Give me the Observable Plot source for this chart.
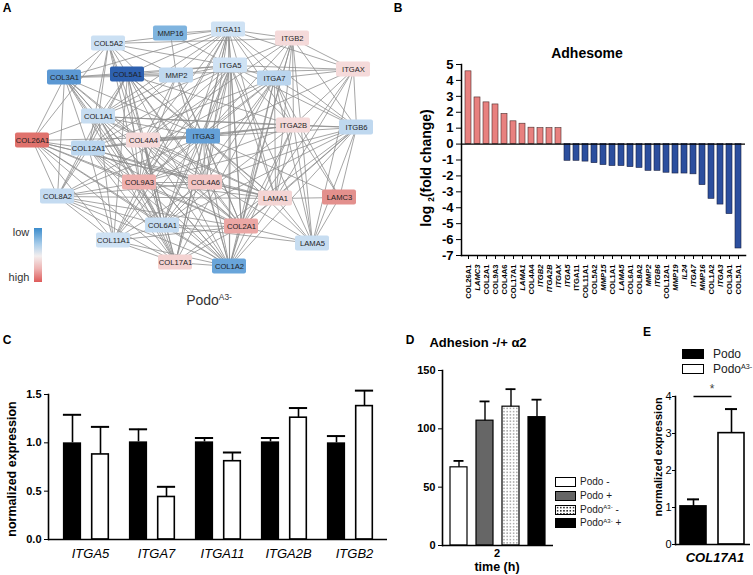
<!DOCTYPE html>
<html><head><meta charset="utf-8">
<script src="https://cdn.jsdelivr.net/npm/d3@7"></script>
<script src="https://cdn.jsdelivr.net/npm/@observablehq/plot@0.6"></script>
<style>
body{margin:0;background:#fff;font-family:"Liberation Sans",Arial,sans-serif;}
#fig{position:relative;width:753px;height:575px;overflow:hidden;background:#fff;}
.t{position:absolute;white-space:nowrap;line-height:1;color:#000;}
sup{font-size:0.6em;vertical-align:0;position:relative;top:-0.6em;}
sub{font-size:0.6em;vertical-align:0;position:relative;top:0.3em;}
</style></head>
<body><div id="fig"></div>
<script>
// ---------- Panel A: network ----------
const nodeNames = ["MMP16","ITGA11","COL5A2","ITGB2","COL3A1","COL5A1","MMP2","ITGA5","ITGA7","ITGAX","COL1A1","ITGA2B","ITGB6","COL26A1","COL4A4","ITGA3","COL12A1","COL9A3","COL4A6","COL8A2","LAMA1","LAMC3","COL6A1","COL2A1","COL11A1","LAMA5","COL17A1","COL1A2"];
const nodeX = [170,228,108,292,64,127,176,230,274,353,98,293,356,32,143,203,88,139,205,57,275,339,162,241,113,312,175,229];
const nodeY = [33,29,43,38,77,74,75,65,78,69,116,125,127,140,140,136,148,182,182,196,198,197,225,226,240,243,262,266];
const edgeList = [
"COL3A1 COL5A1","COL3A1 MMP2","COL5A1 MMP2","MMP2 ITGA5","MMP16 MMP2","MMP16 ITGA11","MMP16 ITGA5",
"COL5A2 ITGA11","COL5A2 ITGA5","COL5A2 COL3A1","COL5A2 COL5A1","COL5A2 COL1A1","COL5A2 COL12A1","COL5A2 COL4A4","COL5A2 ITGA3","COL5A2 COL26A1","COL5A2 COL9A3","COL5A2 COL6A1","COL5A2 MMP2","COL5A2 ITGB2",
"COL3A1 COL1A1","COL3A1 COL12A1","COL3A1 COL26A1","COL3A1 COL8A2","COL3A1 COL4A4","COL3A1 ITGA3","COL3A1 COL9A3","COL3A1 COL2A1","COL3A1 COL1A2","COL3A1 ITGA5","COL3A1 COL6A1","COL3A1 COL17A1",
"COL5A1 ITGA5","COL5A1 ITGAX","COL5A1 COL1A1","COL5A1 COL9A3","COL5A1 COL4A6","COL5A1 COL2A1","COL5A1 LAMA1","COL5A1 COL1A2","COL5A1 COL6A1","COL5A1 COL11A1","COL5A1 COL8A2","COL5A1 COL12A1","COL5A1 ITGA3","COL5A1 COL17A1","COL5A1 ITGA2B",
"COL1A1 ITGA2B","COL1A1 ITGB6","COL1A1 COL4A4","COL1A1 COL26A1","COL1A1 COL12A1","COL1A1 COL8A2","COL1A1 COL9A3","COL1A1 COL6A1","COL1A1 COL2A1","COL1A1 COL1A2","COL1A1 ITGA3","COL1A1 ITGA11","COL1A1 COL11A1","COL1A1 COL17A1","COL1A1 LAMA1",
"COL26A1 ITGA3","COL26A1 COL12A1","COL26A1 COL8A2","COL26A1 COL9A3","COL26A1 COL4A6","COL26A1 COL6A1","COL26A1 COL2A1","COL26A1 COL1A2","COL26A1 COL11A1","COL26A1 LAMA1","COL26A1 COL17A1",
"ITGA11 ITGB2","ITGA11 ITGAX","ITGA11 ITGA5","ITGA11 ITGA7","ITGA11 COL3A1","ITGA11 COL5A1","ITGA11 ITGA3","ITGA11 COL4A4","ITGA11 COL9A3","ITGA11 COL4A6","ITGA11 COL2A1","ITGA11 COL1A2","ITGA11 COL6A1","ITGA11 COL17A1","ITGA11 LAMA1","ITGA11 ITGB6","ITGA11 ITGA2B","ITGA11 COL11A1","ITGA11 COL12A1",
"ITGB2 ITGAX","ITGB2 ITGA7","ITGB2 ITGA5","ITGB2 ITGA2B","ITGB2 ITGB6","ITGB2 ITGA3","ITGB2 LAMA1","ITGB2 LAMA5","ITGB2 COL4A4","ITGB2 COL2A1","ITGB2 COL1A2",
"ITGA5 ITGAX","ITGA5 ITGA7","ITGA5 ITGA3","ITGA5 COL1A1","ITGA5 COL4A4","ITGA5 COL9A3","ITGA5 COL4A6","ITGA5 COL6A1","ITGA5 COL2A1","ITGA5 COL1A2","ITGA5 LAMA1","ITGA5 LAMA5","ITGA5 ITGB6","ITGA5 ITGA2B","ITGA5 COL17A1","ITGA5 COL11A1","ITGA5 COL12A1",
"ITGA7 ITGAX","ITGA7 ITGB6","ITGA7 ITGA2B","ITGA7 LAMA1","ITGA7 LAMC3","ITGA7 LAMA5","ITGA7 COL2A1","ITGA7 COL1A2","ITGA7 ITGA3","ITGA7 COL4A6","ITGA7 COL6A1","ITGA7 COL9A3","ITGA7 COL8A2","ITGA7 COL12A1","ITGA7 COL17A1",
"ITGAX ITGB6","ITGAX ITGA2B","ITGAX ITGA3","ITGAX LAMA1","ITGAX COL2A1","ITGAX LAMA5",
"ITGA2B ITGB6","ITGA2B ITGA3","ITGA2B COL4A4","ITGA2B LAMA1","ITGA2B LAMC3","ITGA2B LAMA5","ITGA2B COL2A1","ITGA2B COL1A2","ITGA2B COL6A1","ITGA2B COL9A3","ITGA2B COL12A1",
"ITGB6 LAMA1","ITGB6 LAMC3","ITGB6 LAMA5","ITGB6 COL2A1","ITGB6 COL1A2","ITGB6 COL4A6","ITGB6 COL6A1","ITGB6 COL17A1","ITGB6 ITGA3","ITGB6 COL9A3",
"ITGA3 COL4A4","ITGA3 LAMA1","ITGA3 LAMC3","ITGA3 LAMA5","ITGA3 COL9A3","ITGA3 COL4A6","ITGA3 COL6A1","ITGA3 COL2A1","ITGA3 COL1A2","ITGA3 COL17A1","ITGA3 COL11A1","ITGA3 COL8A2","ITGA3 COL12A1",
"LAMA1 LAMC3","LAMA1 LAMA5","LAMC3 LAMA5","LAMA1 COL2A1","LAMA1 COL1A2","LAMA5 COL2A1","LAMA5 COL6A1","LAMA5 COL4A4","LAMA1 COL9A3","LAMA1 COL4A4",
"COL2A1 COL1A2","COL2A1 COL6A1","COL2A1 COL9A3","COL2A1 COL4A6","COL2A1 COL11A1","COL2A1 COL8A2","COL2A1 COL12A1","COL2A1 COL4A4","COL2A1 COL17A1",
"COL17A1 COL1A2","COL17A1 COL6A1","COL17A1 COL11A1","COL17A1 COL9A3","COL17A1 COL4A4","COL17A1 COL8A2","COL17A1 COL12A1",
"COL6A1 COL1A2","COL6A1 COL11A1","COL6A1 COL9A3","COL6A1 COL4A6","COL6A1 COL8A2","COL6A1 COL12A1","COL6A1 COL4A4",
"COL11A1 COL1A2","COL11A1 COL8A2","COL11A1 COL9A3","COL11A1 COL12A1","COL11A1 COL4A6",
"COL8A2 COL9A3","COL8A2 COL4A6","COL8A2 COL1A2","COL8A2 COL12A1","COL8A2 LAMA1",
"COL9A3 COL4A6","COL9A3 COL4A4","COL9A3 COL1A2","COL9A3 COL12A1",
"COL4A6 COL4A4","COL4A6 COL1A2","COL4A6 LAMA1","COL4A6 COL12A1",
"COL12A1 COL1A2","COL12A1 LAMA1","COL12A1 COL4A4",
"MMP2 COL1A1","MMP2 COL4A4","MMP2 COL1A2","MMP2 COL2A1","MMP2 ITGA3","MMP2 COL9A3",
"COL4A4 COL1A2","COL4A4 COL6A1"
];
const colorStops = [-6.6,-4.4,-3.4,-2.6,-1.9,-1.0,0,1.0,1.45,1.9,2.5,2.95,4.6];
const colorRange = ["#2c5fae","#5b98d3","#6aa6da","#7db3df","#bad5ee","#d0e3f4","#f2f2f2","#f5dada","#f4d2d1","#f3c6c5","#eeb0ae","#e38f8b","#e0716c"];

// ---------- Panel B: Adhesome ----------
const bGenes = ["COL26A1","LAMC3","COL2A1","COL9A3","COL4A6","COL17A1","LAMA1","COL4A4","ITGB2","ITGA2B","ITGAX","ITGA5","ITGA11","COL11A1","COL5A2","MMP15","COL1A1","LAMA5","COL6A1","COL8A2","MMP2","ITGB6","COL12A1","MMP19","IL24","ITGA7","MMP16","COL1A2","ITGA3","COL3A1","COL5A1"];
const bValues = [4.57,2.93,2.62,2.49,1.89,1.43,1.28,1.03,1.0,1.0,1.0,-1.05,-1.05,-1.1,-1.2,-1.32,-1.38,-1.38,-1.45,-1.5,-1.68,-1.68,-1.8,-1.85,-1.85,-1.9,-2.58,-3.44,-3.8,-4.4,-6.56];
const bItalic = ["LAMC3","LAMA1","ITGB2","ITGA2B","ITGAX","ITGA5","MMP15","LAMA5","MMP2","ITGB6","MMP19","IL24","ITGA7","MMP16","ITGA3"];
const bTicks = [5,4,3,2,1,0,-1,-2,-3,-4,-5,-6,-7];

// ---------- Panel C ----------
const cGenes = ["ITGA5","ITGA7","ITGA11","ITGA2B","ITGB2"];
const cPodo = [1.0,1.01,1.01,1.01,1.0];
const cPodoErr = [1.29,1.14,1.05,1.05,1.07];
const cA3 = [0.88,0.44,0.81,1.26,1.38];
const cA3Err = [1.165,0.545,0.90,1.36,1.54];
const cTicks = [0,0.5,1,1.5];

// ---------- Panel D ----------
const dConds = ["Podo -","Podo +","PodoA3- -","PodoA3- +"];
const dValues = [67,107,119,110];
const dErr = [72.5,123.5,134,125];
const dFills = ["white","#666666","url(#dots)","black"];
const dTicks = [0,50,100,150];

// ---------- Panel E ----------
const eConds = ["Podo","PodoA3-"];
const eValues = [1.03,3.01];
const eErr = [1.22,3.66];
const eTicks = [0,1,2,3,4];

// ================= drawing =================
const fig = document.getElementById("fig");
const FONT = "Liberation Sans, Arial, sans-serif";
const baseStyle = {background:"transparent", fontFamily: FONT, overflow:"visible", color:"#000"};
function put(node, left, top){ node.style.position="absolute"; node.style.left=left+"px"; node.style.top=top+"px"; node.style.maxWidth="none"; fig.appendChild(node); return node; }
function txt(html, x, y, css, rot){
  const d = document.createElement("div"); d.className="t"; d.innerHTML = html;
  d.style.left = x+"px"; d.style.top = y+"px";
  d.style.transform = "translate(-50%,-50%)" + (rot ? " rotate(-90deg)" : "");
  Object.assign(d.style, css||{}); fig.appendChild(d); return d;
}

// Panel A
const nodes = nodeNames.map((n,i)=>({name:n, x:nodeX[i], y:nodeY[i]}));
const pos = new Map(nodes.map(d=>[d.name,d]));
const fc = new Map(bGenes.map((g,i)=>[g,bValues[i]]));
const edges = Array.from(new Set(edgeList)).map(s=>s.split(" "));
const BW = 17, BH = 7.5;
const svgA = Plot.plot({
  width: 375, height: 290, margin: 0,
  x: {domain:[0,375], range:[0,375], axis:null},
  y: {domain:[0,290], range:[0,290], axis:null},
  color: {type:"linear", domain: colorStops, range: colorRange},
  style: baseStyle,
  marks: [
    Plot.link(edges, {x1:d=>pos.get(d[0]).x, y1:d=>pos.get(d[0]).y, x2:d=>pos.get(d[1]).x, y2:d=>pos.get(d[1]).y, stroke:"#8e8e8e", strokeWidth:0.8}),
    Plot.rect(nodes, {x1:d=>d.x-BW, x2:d=>d.x+BW, y1:d=>d.y-BH, y2:d=>d.y+BH, fill:d=>fc.get(d.name), rx:2}),
    Plot.text(nodes, {x:"x", y:"y", text:"name", fontSize:7.6, fill:"#1e1e1e"})
  ]
});
put(svgA, 0, 0);
// legend for A
const grad = document.createElement("div");
Object.assign(grad.style, {position:"absolute", left:"34px", top:"228px", width:"8px", height:"54px",
  background:"linear-gradient(to bottom,#3b8ccc 0%,#a9cdea 30%,#f3eeee 52%,#eeb4b3 75%,#de5b5a 100%)"});
fig.appendChild(grad);
txt("low", 21, 232, {fontSize:"11px", color:"#333"});
txt("high", 19, 277, {fontSize:"11px", color:"#333"});
txt("Podo<sup>A3-</sup>", 209, 300, {fontSize:"14px", color:"#333"});

// Panel B
const bData = bGenes.map((g,i)=>({gene:g, value:bValues[i]}));
const svgB = Plot.plot({
  width: 378, height: 305, marginLeft: 86, marginRight: 8, marginTop: 64, marginBottom: 50,
  x: {domain: bGenes, paddingInner: 0.37, paddingOuter: 0.46},
  y: {domain: [-7,5]},
  style: baseStyle,
  marks: [
    Plot.barY(bData.filter(d=>d.value>0), {x:"gene", y:"value", fill:"#e8817f", stroke:"#4a2a2a", strokeWidth:0.6}),
    Plot.barY(bData.filter(d=>d.value<0), {x:"gene", y:"value", fill:"#2c4f9e", stroke:"#1a2244", strokeWidth:0.6}),
    Plot.ruleY([0], {stroke:"black", strokeWidth:1.3}),
    Plot.frame({anchor:"left", stroke:"black", strokeWidth:1.5}),
    Plot.frame({anchor:"bottom", stroke:"black", strokeWidth:1.5}),
    Plot.axisY({ticks: bTicks, tickFormat: d=>String(d), tickSize:5, tickPadding:3, fontSize:13, fontWeight:"bold", label:null}),
    Plot.axisX({ticks: bGenes.filter(g=>!bItalic.includes(g)), tickRotate:-90, tickSize:4, tickPadding:5, fontSize:7.6, fontWeight:"bold", label:null}),
    Plot.axisX({ticks: bItalic, tickRotate:-90, tickSize:4, tickPadding:5, fontSize:7.6, fontWeight:"bold", fontStyle:"italic", label:null})
  ]
});
put(svgB, 375, 0);
txt("Adhesome", 587, 53, {fontSize:"14px", fontWeight:"bold"});
txt("log <sub>2</sub>(fold change)", 426, 168, {fontSize:"14px", fontWeight:"bold"}, true);

// Panel C
const cData = cGenes.map((g,i)=>({gene:g, podo:cPodo[i], podoErr:cPodoErr[i], a3:cA3[i], a3Err:cA3Err[i]}));
const cL = 9.9, cR = 37.9;
const svgC = Plot.plot({
  width: 395, height: 195, marginLeft: 48, marginRight: 8, marginTop: 24, marginBottom: 26,
  x: {domain: cGenes, paddingInner: 0, paddingOuter: 0.04},
  y: {domain: [0,1.5]},
  style: baseStyle,
  marks: [
    Plot.barY(cData, {x:"gene", y:"podo", fill:"black", insetLeft:cL, insetRight:cR}),
    Plot.barY(cData, {x:"gene", y:"a3", fill:"white", stroke:"black", strokeWidth:1.6, insetLeft:cR+0.8, insetRight:cL+0.8}),
    Plot.ruleX(cData, {x:"gene", y1:"podo", y2:"podoErr", dx:-14, stroke:"black", strokeWidth:1.6}),
    Plot.ruleX(cData, {x:"gene", y1:"a3", y2:"a3Err", dx:14, stroke:"black", strokeWidth:1.6}),
    Plot.tickY(cData, {x:"gene", y:"podoErr", insetLeft:cL, insetRight:cR, stroke:"black", strokeWidth:2}),
    Plot.tickY(cData, {x:"gene", y:"a3Err", insetLeft:cR, insetRight:cL, stroke:"black", strokeWidth:2}),
    Plot.ruleY([0], {stroke:"black", strokeWidth:1.6}),
    Plot.frame({anchor:"left", stroke:"black", strokeWidth:1.6}),
    Plot.axisY({ticks: cTicks, tickFormat: d3.format(".1f"), tickSize:4, tickPadding:3, fontSize:11, fontWeight:"bold", label:null}),
    Plot.axisX({tickSize:0, tickPadding:9, fontSize:13, fontStyle:"italic", label:null, dx:4})
  ]
});
put(svgC, 0, 370);
txt("normalized expression", 12, 469, {fontSize:"12.5px", fontWeight:"bold"}, true);

// Panel D
const dData = dConds.map((c,i)=>({cond:c, value:dValues[i], err:dErr[i]}));
const svgD = Plot.plot({
  width: 158, height: 245, marginLeft: 42, marginRight: 5, marginTop: 40, marginBottom: 30,
  x: {domain: dConds, paddingInner: 0.36, paddingOuter: 0.3, axis:null},
  y: {domain: [0,150]},
  color: {domain: dConds, range: dFills},
  style: baseStyle,
  marks: [
    Plot.barY(dData, {x:"cond", y:"value", fill:"cond", stroke:"black", strokeWidth:1.2}),
    Plot.ruleX(dData, {x:"cond", y1:"value", y2:"err", stroke:"black", strokeWidth:1.4}),
    Plot.tickY(dData, {x:"cond", y:"err", insetLeft:3.5, insetRight:3.5, stroke:"black", strokeWidth:1.8}),
    Plot.ruleY([0], {stroke:"black", strokeWidth:1.6}),
    Plot.frame({anchor:"left", stroke:"black", strokeWidth:1.6}),
    Plot.axisY({ticks: dTicks, tickFormat: d=>String(d), tickSize:4, tickPadding:3, fontSize:11, fontWeight:"bold", label:null})
  ]
});
const defs = d3.select(svgD).insert("defs", ":first-child");
const pat = defs.append("pattern").attr("id","dots").attr("patternUnits","userSpaceOnUse").attr("width",3.2).attr("height",3.2);
pat.append("rect").attr("width",3.2).attr("height",3.2).attr("fill","white");
pat.append("circle").attr("cx",1.6).attr("cy",1.6).attr("r",0.55).attr("fill","#222");
put(svgD, 400, 330);
txt("Adhesion -/+ α2", 478, 342, {fontSize:"13px", fontWeight:"bold"});
txt("2", 497, 553, {fontSize:"11px", fontWeight:"bold"});
txt("time (h)", 497, 567, {fontSize:"12.5px", fontWeight:"bold"});
// legend D
const dLegendLabels = ["Podo -","Podo +","Podo<sup>A3-</sup> -","Podo<sup>A3-</sup> +"];
const dLegendBg = ["#fff","#666","#fff radial-gradient(circle, #222 0.55px, transparent 0.8px) 0 0/3.2px 3.2px","#000"];
dLegendLabels.forEach((l,i)=>{
  const b = document.createElement("div");
  Object.assign(b.style,{position:"absolute", left:"555px", top:(477+i*13.8)+"px", width:"19px", height:"8px", border:"1px solid #000", background:dLegendBg[i]});
  fig.appendChild(b);
  const t = txt(l, 580, 482+i*13.8, {fontSize:"10px", color:"#222"});
  t.style.transform = "translate(0,-50%)";
});

// Panel E
const eData = eConds.map((c,i)=>({cond:c, value:eValues[i], err:eErr[i]}));
const sig = [{a:"Podo", b:"PodoA3-", y:4}];
const svgE = Plot.plot({
  width: 118, height: 190, marginLeft: 40, marginRight: 3, marginTop: 16, marginBottom: 26,
  x: {domain: eConds, paddingInner: 0.31, paddingOuter: 0.135, axis:null},
  y: {domain: [0,4]},
  style: baseStyle,
  marks: [
    Plot.barY(eData, {x:"cond", y:"value", fill:d=>d.cond==="Podo"?"black":"white", stroke:"black", strokeWidth:1.6}),
    Plot.ruleX(eData, {x:"cond", y1:"value", y2:"err", stroke:"black", strokeWidth:1.6}),
    Plot.tickY(eData, {x:"cond", y:"err", insetLeft:7, insetRight:7, stroke:"black", strokeWidth:2}),
    Plot.link(sig, {x1:"a", x2:"b", y1:"y", y2:"y", stroke:"black", strokeWidth:1.6}),
    Plot.ruleY([0], {stroke:"black", strokeWidth:1.6}),
    Plot.frame({anchor:"left", stroke:"black", strokeWidth:1.6}),
    Plot.axisY({ticks: eTicks, tickFormat: d=>String(d), tickSize:3, tickPadding:1, fontSize:11, label:null})
  ]
});
put(svgE, 635, 380);
txt("*", 712, 389, {fontSize:"12px", color:"#444"});
txt("COL17A1", 715, 557, {fontSize:"13px", fontWeight:"bold", fontStyle:"italic"});
txt("normalized expression", 658, 457, {fontSize:"11px", fontWeight:"bold"}, true);
[["#000","Podo"],["#fff","Podo<sup>A3-</sup>"]].forEach(([bg,l],i)=>{
  const b = document.createElement("div");
  Object.assign(b.style,{position:"absolute", left:"682px", top:(349+i*15)+"px", width:"20px", height:"8px", border:"1px solid #000", background:bg});
  fig.appendChild(b);
  const t = txt(l, 713, 354+i*15, {fontSize:"12px", color:"#222"});
  t.style.transform = "translate(0,-50%)";
});

// panel letters
[["A",7,8],["B",398,8],["C",7,340],["D",410,340],["E",647,332]].forEach(([l,x,y])=>txt(l,x,y,{fontSize:"12px",fontWeight:"bold"}));
</script>
</body></html>
